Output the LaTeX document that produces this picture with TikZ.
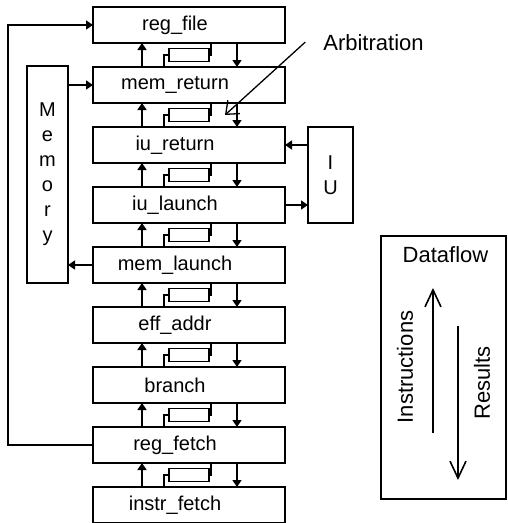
\documentclass[tikz,border=0pt]{standalone}
\usepackage{fontspec}
\setmainfont{Liberation Sans}
\usetikzlibrary{positioning,calc,arrows.meta}

\begin{document}
\begin{tikzpicture}[x=1pt, y=-1pt, line width=1.6pt,
    stage/.style={draw, minimum width=192pt, minimum height=36pt, inner sep=0pt, outer sep=0pt,
      font=\fontsize{20}{25}\selectfont, execute at end node={\hspace*{28pt}}},
    unit/.style={draw, align=center, inner sep=0pt, outer sep=0pt, font=\fontsize{20}{25}\selectfont},
    latch/.style={draw, minimum width=40pt, minimum height=13pt, inner sep=0pt, outer sep=0pt},
    flow/.style={-{Triangle[length=7pt,width=9pt]}},
    note/.style={font=\fontsize{22}{26}\selectfont},
    barb/.style={-{Straight Barb[length=11pt,width=18pt]}, line width=1.3pt},
    bigbarb/.style={-{Straight Barb[length=17pt,width=16pt]}}
  ]
\clip (0,0) rectangle (508,523);

% Pipeline stages
\node[stage] (regfile) at (189,25) {reg\_file};
\node[stage, below=24pt of regfile] (memret) {mem\_return};
\node[stage, below=24pt of memret] (iuret) {iu\_return};
\node[stage, below=24pt of iuret] (iulaunch) {iu\_launch};
\node[stage, below=24pt of iulaunch] (memlaunch) {mem\_launch};
\node[stage, below=24pt of memlaunch] (effaddr) {eff\_addr};
\node[stage, below=24pt of effaddr] (branch) {branch};
\node[stage, below=24pt of branch] (regfetch) {reg\_fetch};
\node[stage, below=24pt of regfetch] (instrfetch) {instr\_fetch};

% Latches and flows between neighbouring stages
\foreach \up/\lo in {regfile/memret, memret/iuret, iuret/iulaunch, iulaunch/memlaunch,
    memlaunch/effaddr, effaddr/branch, branch/regfetch, regfetch/instrfetch} {
  \node[latch] (latch-\lo) at ($(\up.south)!0.5!(\lo.north)$) {};
  \draw[flow] ([xshift=-47pt]\lo.north) -- ([xshift=-47pt]\up.south);
  \draw[flow] ([xshift=48pt]\up.south) -- ([xshift=48pt]\lo.north);
  \draw ([xshift=-25pt]\lo.north) |- (latch-\lo.west);
  \draw ([xshift=22pt]\up.south) |- (latch-\lo.east);
}

% Memory and IU
\node[unit, minimum width=41pt, minimum height=217pt] (memory) at (47.5,174.5) {M\\e\\m\\o\\r\\y};
\node[unit, minimum width=45pt, minimum height=96pt] (iu) at (330.5,175) {I\\U};

\draw[flow] (memory.east |- memret.west) -- (memret.west);
\draw[flow] (memlaunch.west) -- (memory.east |- memlaunch.west);
\draw[flow] (iu.west |- iuret.east) -- (iuret.east);
\draw[flow] (iulaunch.east) -- (iu.west |- iulaunch.east);

% Feedback from reg_fetch to reg_file
\draw[flow] (regfetch.west) -- ++(-85,0) |- (regfile.west);

% Arbitration label
\node[note, anchor=base] (arb) at (373.5,50) {Arbitration};
\coordinate (arbtip) at (225,115);
\draw[barb] ([xshift=-14pt]arb.west) -- (arbtip);

% Dataflow legend
\node[draw, minimum width=125pt, minimum height=263pt, inner sep=0pt, outer sep=0pt] (legend) at (443.5,367.5) {};
\node[note, anchor=base] (dflow) at (445.5,262) {Dataflow};
\coordinate (instr-start) at (433,433);
\coordinate (instr-end) at (433,288);
\coordinate (res-start) at (458,326);
\coordinate (res-end) at (458,480);
\draw[bigbarb] (instr-start) -- (instr-end);
\draw[bigbarb] (res-start) -- (res-end);
\node[note, rotate=90] (instr) at (405,367) {Instructions};
\node[note, rotate=90] (res) at (482,383) {Results};

\end{tikzpicture}
\end{document}
